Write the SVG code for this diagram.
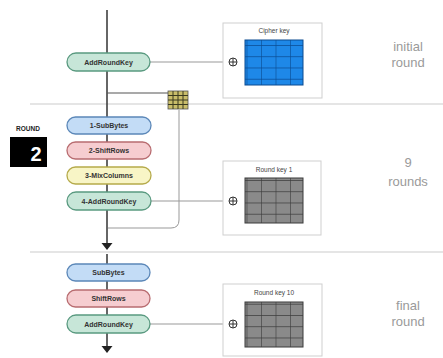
<svg xmlns="http://www.w3.org/2000/svg" width="443" height="358" viewBox="0 0 443 358">
<style>
text{font-family:"Liberation Sans",Arial,sans-serif}
.pill{stroke-width:1.3}
.pt{font-size:7px;font-weight:bold;fill:#333;text-anchor:middle}
.ark{fill:#c7e6d8;stroke:#5a9a80}
.sb{fill:#c3dcf6;stroke:#5b87b8}
.sr{fill:#f6cdd0;stroke:#b86c70}
.mc{fill:#f8f5c6;stroke:#b5aa4a}
.box{fill:#fff;stroke:#cfcfcf;stroke-width:1}
.bt{font-size:6.5px;fill:#444;text-anchor:middle}
.side{font-size:13px;fill:#9a9a9a;text-anchor:middle}
.sep{stroke:#dcdcdc;stroke-width:1.5}
.link{stroke:#999;stroke-width:1;fill:none}
.spine{stroke:#333;stroke-width:1.5;fill:none}
.xor{fill:#fff;stroke:#333;stroke-width:1}
</style>
<defs>
<pattern id="gb" width="14.5" height="11.25" patternUnits="userSpaceOnUse">
<rect width="14.5" height="11.25" fill="#1e88e8"/>
<path d="M0 0H14.5M0 0V11.25" stroke="#0a4a90" stroke-width="1.2"/>
</pattern>
<pattern id="gg" width="14.5" height="11.25" patternUnits="userSpaceOnUse">
<rect width="14.5" height="11.25" fill="#8a8a8a"/>
<path d="M0 0H14.5M0 0V11.25" stroke="#3a3a3a" stroke-width="1.2"/>
</pattern>
<g id="xs"><circle r="4" class="xor"/><path d="M-4 0H4M0 -4V4" stroke="#333" stroke-width="1"/></g>
</defs>

<g id="separators">
<line x1="30" y1="104" x2="443" y2="104" class="sep"/>
<line x1="30" y1="252" x2="443" y2="252" class="sep"/>
</g>

<g id="connectors">
<path d="M107 10V243" class="spine"/>
<path d="M107 254V348" class="spine"/>
<path d="M107 93H168" stroke="#555" stroke-width="1.2" fill="none"/>
<path d="M179 110V220Q179 228 171 228H108" class="link" stroke="#888"/>
<path d="M150 62H229" class="link"/>
<path d="M151 201H229" class="link"/>
<path d="M150 324H229" class="link"/>
<path d="M101.5 243H112.5L107 250Z" fill="#222"/>
<path d="M101.5 346H112.5L107 353Z" fill="#222"/>
</g>

<g id="keygrid-small">
<rect x="168" y="91" width="20" height="18" fill="#c9bd6a" stroke="#555" stroke-width="0.8"/>
<path d="M173 91V109M178 91V109M183 91V109M168 95.5H188M168 100H188M168 104.5H188" stroke="#3a3a20" stroke-width="1"/>
</g>

<g id="initial-ark"><rect x="67" y="53" width="83" height="18" rx="9" class="pill ark"/><text x="108.5" y="64.5" class="pt">AddRoundKey</text></g>

<g id="cipher-key">
<rect x="223" y="23" width="99" height="75" class="box"/>
<text x="274" y="33" class="bt">Cipher key</text>
<rect x="245" y="40" width="58" height="45" fill="url(#gb)" stroke="#0a4a90" stroke-width="1"/>
<use href="#xs" x="233" y="62"/>
</g>
<g id="lbl-initial"><text x="408" y="51" class="side">initial</text><text x="408" y="67" class="side">round</text></g>

<g id="round-label">
<text x="28" y="131" font-size="6.5" font-weight="bold" fill="#222" text-anchor="middle">ROUND</text>
<rect x="10" y="137" width="37" height="30" fill="#000"/>
<text x="36" y="161" font-size="20" font-weight="bold" fill="#fff" text-anchor="middle">2</text>
</g>

<g id="subbytes1"><rect x="67" y="117" width="84" height="17" rx="8.5" class="pill sb"/><text x="109" y="128" class="pt">1-SubBytes</text></g>
<g id="shiftrows1"><rect x="67" y="142" width="84" height="17" rx="8.5" class="pill sr"/><text x="109" y="153" class="pt">2-ShiftRows</text></g>
<g id="mixcolumns1"><rect x="67" y="167" width="84" height="17" rx="8.5" class="pill mc"/><text x="109" y="178" class="pt">3-MixColumns</text></g>
<g id="ark1"><rect x="67" y="192" width="84" height="18" rx="9" class="pill ark"/><text x="109" y="203.5" class="pt">4-AddRoundKey</text></g>

<g id="round-key-1">
<rect x="223" y="161" width="98" height="74" class="box"/>
<text x="274" y="172" class="bt">Round key 1</text>
<rect x="245" y="178" width="58" height="45" fill="url(#gg)" stroke="#3a3a3a" stroke-width="1"/>
<use href="#xs" x="233" y="201"/>
</g>
<g id="lbl-9"><text x="408" y="167" class="side">9</text><text x="408" y="186" class="side">rounds</text></g>

<g id="subbytes-f"><rect x="67" y="264" width="83" height="17" rx="8.5" class="pill sb"/><text x="108.5" y="275" class="pt">SubBytes</text></g>
<g id="shiftrows-f"><rect x="67" y="290" width="83" height="17" rx="8.5" class="pill sr"/><text x="108.5" y="301" class="pt">ShiftRows</text></g>
<g id="ark-f"><rect x="67" y="315" width="83" height="18" rx="9" class="pill ark"/><text x="108.5" y="326.5" class="pt">AddRoundKey</text></g>

<g id="round-key-10">
<rect x="223" y="284" width="99" height="72" class="box"/>
<text x="274" y="295" class="bt">Round key 10</text>
<rect x="245" y="302" width="58" height="45" fill="url(#gg)" stroke="#3a3a3a" stroke-width="1"/>
<use href="#xs" x="233" y="324"/>
</g>
<g id="lbl-final"><text x="408" y="310" class="side">final</text><text x="408" y="326" class="side">round</text></g>
</svg>
